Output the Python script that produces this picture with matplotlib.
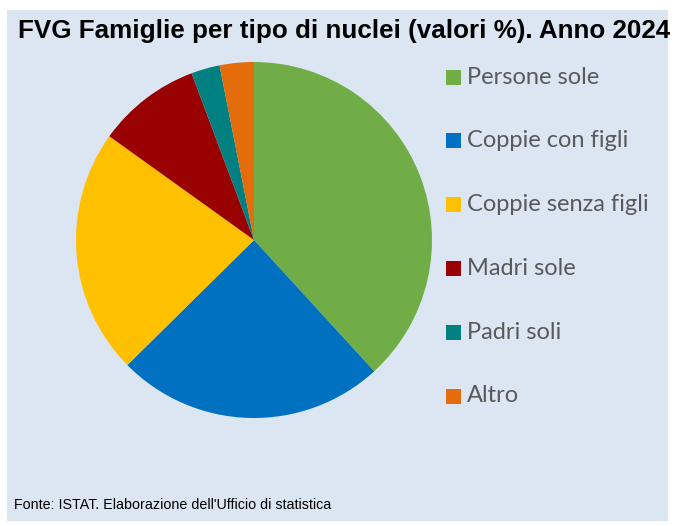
import matplotlib
matplotlib.use("Agg")
import matplotlib.pyplot as plt
import matplotlib.patches as patches

# Data (percent shares)
labels = ["Persone sole", "Coppie con figli", "Coppie senza figli",
          "Madri sole", "Padri soli", "Altro"]
values = [38.2, 24.4, 22.3, 9.4, 2.6, 3.1]
colors = ["#70ad47", "#0070c0", "#ffc000", "#990000", "#008080", "#e46c0a"]

BG = "#dce6f2"
W, H = 675, 526


def fit_width(fig, txt, target_px):
    # shrink/grow a text so that it spans target_px pixels
    r = fig.canvas.get_renderer()
    w = txt.get_window_extent(r).width
    txt.set_fontsize(txt.get_fontsize() * target_px / w)


fig = plt.figure(figsize=(W / 100, H / 100), dpi=100)
fig.patch.set_facecolor("white")

# light blue panel behind everything
panel = patches.Rectangle((7 / W, 1 - 521 / H), 661 / W, 511 / H,
                          transform=fig.transFigure, facecolor=BG,
                          edgecolor="none", zorder=0)
fig.add_artist(panel)

title = fig.text(18 / W, 1 - 31 / H,
                 "FVG Famiglie per tipo di nuclei (valori %). Anno 2024",
                 fontsize=18, fontweight="bold", family="Liberation Sans",
                 color="black", va="center", ha="left")

ax = fig.add_axes([76 / W, 1 - 418 / H, 356 / W, 356 / H])
ax.pie(values, colors=colors, startangle=90, counterclock=False,
       wedgeprops=dict(linewidth=0))
ax.set_xlim(-1, 1)
ax.set_ylim(-1, 1)
ax.set_aspect("equal")
ax.axis("off")

# legend drawn by hand
for i, (lab, col) in enumerate(zip(labels, colors)):
    yc = 1 - (77 + i * 63.8) / H
    sq = patches.Rectangle((446 / W, yc - 7.5 / H), 15 / W, 15 / H,
                           transform=fig.transFigure, facecolor=col,
                           edgecolor="none")
    fig.add_artist(sq)
    fig.text(467 / W, yc, lab, fontsize=17, family="Lato", color="#595959",
             va="center", ha="left")

foot = fig.text(14 / W, 1 - 505 / H,
                "Fonte: ISTAT. Elaborazione dell'Ufficio di statistica",
                fontsize=12, family="Liberation Sans", color="black",
                va="center", ha="left")

fit_width(fig, title, 650)
fit_width(fig, foot, 316)

fig.savefig("out.png", dpi=100, facecolor=fig.get_facecolor())
